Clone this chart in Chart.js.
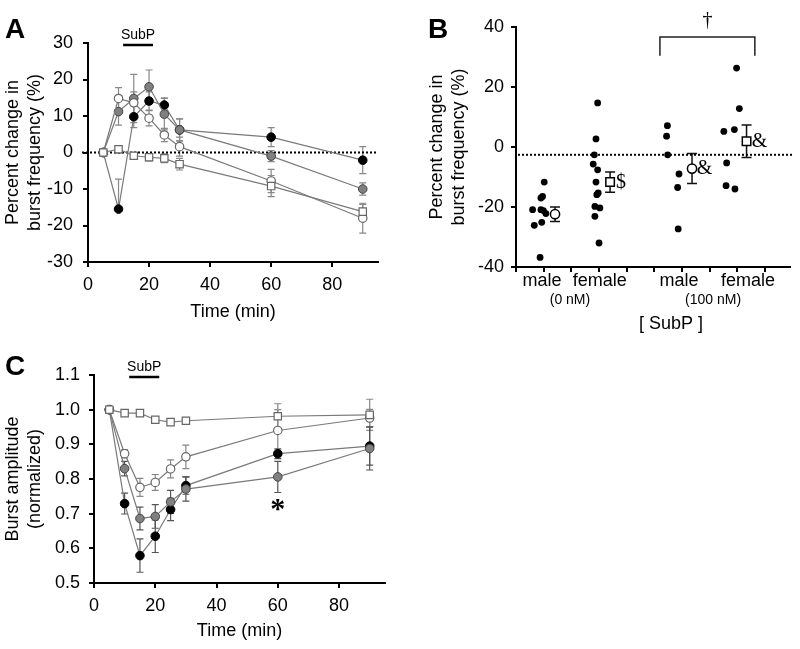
<!DOCTYPE html>
<html><head><meta charset="utf-8">
<script src="https://cdn.jsdelivr.net/npm/chart.js@4/dist/chart.umd.min.js"></script>
<style>
body{margin:0;background:#fff;width:800px;height:649px;position:relative;overflow:hidden;font-family:Arial,"Liberation Sans",sans-serif}
canvas{position:absolute}
.lbl{position:absolute;font-weight:bold;font-size:28px;line-height:1;color:#000}
</style></head><body>
<canvas id="cA" width="400" height="340" style="left:0;top:0"></canvas>
<canvas id="cB" width="400" height="340" style="left:400px;top:0"></canvas>
<canvas id="cC" width="400" height="309" style="left:0;top:340px"></canvas>
<div class="lbl" style="left:5px;top:15px">A</div>
<div class="lbl" style="left:428px;top:15px">B</div>
<div class="lbl" style="left:5px;top:352px">C</div>
<script>
const FONT='Arial, "Liberation Sans", Helvetica, sans-serif';
const SERIF='"Times New Roman", "Liberation Serif", Times, serif';

// ---------- Panel A : burst frequency time course ----------
const timesMin=[5,10,15,20,25,30,60,90];
const aXTicks=[0,20,40,60,80];
const aYTicks=[-30,-20,-10,0,10,20,30];
const aBlack=[0,-15.5,9.8,14.1,13.0,6.2,4.2,-2.1];
const aBlackErr=[0,8.2,3.0,2.5,2.0,3.0,2.6,3.7];
const aBlackErrLow=[0,0,3.0,2.5,2.0,3.0,2.6,3.7];
const aGray=[0,11.2,14.8,18.0,10.5,6.2,-1.0,-10.0];
const aGrayErr=[0,3.7,6.6,4.6,4.3,3.0,1.5,1.7];
const aOpenCircle=[0,14.8,13.6,9.4,4.8,1.6,-7.8,-18.0];
const aOpenCircleErr=[0,3.0,3.0,2.1,1.8,2.6,3.2,4.1];
const aOpenSquare=[0,0.9,-0.9,-1.3,-1.6,-3.2,-9.2,-16.2];
const aOpenSquareErr=[0,1.0,0.8,1.0,1.2,1.6,2.9,2.0];
const aSubP=[11.5,21.3];

// ---------- Panel B : individual values ----------
const bYTicks=[-40,-20,0,20,40];
const bXTicks=[0,1,2,3,4,5,6,7,8,9];
const bCategories=['male','female','male','female'];
const bCategoryX=[0.94,3.03,5.89,8.38];
const bDoses=['(0 nM)','(100 nM)'];
const bDoseX=[1.95,7.12];
const bMale0X=[0.60,0.66,0.87,0.90,0.96,1.02,0.90,0.99,1.08,0.93];
const bMale0Y=[-20.9,-26.1,-36.8,-17.0,-16.5,-11.7,-20.9,-21.2,-22.2,-25.1];
const bFemale0X=[2.89,2.83,2.79,2.95,2.89,2.97,2.92,2.85,3.03,2.85,3.00,2.95];
const bFemale0Y=[2.7,-2.6,-5.7,-7.6,-11.7,-15.3,-15.9,-19.8,-20.3,-23.1,-32.0,14.7];
const bMale100X=[5.47,5.44,5.48,5.89,5.84,5.86];
const bMale100Y=[7.1,3.6,-2.6,-9.0,-13.5,-27.3];
const bFemale100X=[7.97,8.07,7.51,7.89,7.61,7.59,7.91];
const bFemale100Y=[26.3,12.8,5.2,5.8,-5.3,-12.9,-14.0];
const bMeanCircleX=[1.41,6.36];
const bMeanCircleY=[-22.4,-7.2];
const bMeanCircleErr=[2.4,5.0];
const bMeanSquareX=[3.40,8.33];
const bMeanSquareY=[-11.7,1.9];
const bMeanSquareErr=[3.4,5.4];
const bBaseline=-2.6;
const bMarks=[{t:'$',x:3.79,y:-12.0},{t:'&',x:6.81,y:-7.2},{t:'&',x:8.80,y:1.9}];
const bBracketX=[5.2,8.63];
const bBracketY=[30.4,36.7];

// ---------- Panel C : burst amplitude ----------
const cXTicks=[0,20,40,60,80];
const cYTicks=[0.5,0.6,0.7,0.8,0.9,1.0,1.1];
const cOpenSquare=[1.0,0.990,0.990,0.971,0.964,0.968,0.981,0.985];
const cOpenSquareErr=[0,0.005,0.005,0.006,0.006,0.008,0.036,0.045];
const cOpenCircle=[1.0,0.873,0.776,0.790,0.829,0.864,0.940,0.976];
const cOpenCircleErr=[0,0.012,0.026,0.023,0.026,0.034,0.060,0.025];
const cBlack=[1.0,0.729,0.579,0.635,0.712,0.781,0.873,0.895];
const cBlackErr=[0,0.030,0.048,0.047,0.032,0.025,0.014,0.055];
const cGray=[1.0,0.830,0.686,0.692,0.734,0.771,0.806,0.888];
const cGrayErr=[0,0.021,0.033,0.034,0.033,0.035,0.045,0.062];
const cSubP=[11.5,21.3];
const cStarX=60, cStarY=0.73;

// ---------- helpers ----------
const LINE='#7a7a7a';
const STY={
  black:{pointStyle:'circle',pointRadius:4.3,pointBackgroundColor:'#000',pointBorderColor:'#000',pointBorderWidth:1,errColor:'#555'},
  gray:{pointStyle:'circle',pointRadius:4.3,pointBackgroundColor:'#808080',pointBorderColor:'#444',pointBorderWidth:1,errColor:'#555'},
  circle:{pointStyle:'circle',pointRadius:4.2,pointBackgroundColor:'#fff',pointBorderColor:'#666',pointBorderWidth:1.2,errColor:'#888'},
  square:{pointStyle:'rect',pointRadius:5.2,pointBackgroundColor:'#fff',pointBorderColor:'#666',pointBorderWidth:1.2,errColor:'#888'}
};
function series(xs,ys,errs,style,extra){
  return Object.assign({
    data:xs.map((x,i)=>({x:x,y:ys[i]})),
    errors:errs,
    showLine:true,borderColor:LINE,borderWidth:1.2,clip:false,
    capW:3.5,errWidth:1.2
  },STY[style],extra||{});
}
function xAxis(min,max,ticks,title,height,titlePad,showLabels){
  return {type:'linear',min:min,max:max,
    afterBuildTicks:s=>{s.ticks=ticks.map(v=>({value:v}));},
    afterFit:s=>{s.height=height;},
    ticks:{color:'#000',font:{family:FONT,size:18},padding:7,autoSkip:false,maxRotation:0,
      callback:v=>showLabels?String(v):''},
    grid:{drawOnChartArea:false,drawTicks:true,tickLength:5,color:'#000',lineWidth:2},
    border:{display:true,color:'#000',width:2},
    title:{display:!!title,text:title||'',color:'#000',font:{family:FONT,size:18},padding:{top:0,bottom:titlePad}}
  };
}
function yAxis(min,max,ticks,title,width,titlePad,tickPad,fmt){
  return {type:'linear',min:min,max:max,
    afterBuildTicks:s=>{s.ticks=ticks.map(v=>({value:v}));},
    afterFit:s=>{s.width=width;},
    ticks:{color:'#000',font:{family:FONT,size:18},padding:tickPad,autoSkip:false,
      callback:v=>fmt?fmt(v):String(v)},
    grid:{drawOnChartArea:false,drawTicks:true,tickLength:5,color:'#000',lineWidth:2},
    border:{display:true,color:'#000',width:2},
    title:{display:true,text:title,color:'#000',font:{family:FONT,size:18,lineHeight:1.17},padding:{top:titlePad,bottom:0}}
  };
}
const errPlugin={id:'errbars',beforeDatasetsDraw(chart){
  const ctx=chart.ctx, ys=chart.scales.y;
  chart.data.datasets.forEach((ds,i)=>{
    if(!ds.errors) return;
    const meta=chart.getDatasetMeta(i);
    ctx.save();ctx.strokeStyle=ds.errColor;ctx.lineWidth=ds.errWidth;
    meta.data.forEach((pt,j)=>{
      const eu=ds.errors[j], ed=ds.errorsLow?ds.errorsLow[j]:eu;
      if(!eu && !ed) return;
      const v=ds.data[j].y, cw=ds.capW;
      const y1=ys.getPixelForValue(v+eu), y2=ys.getPixelForValue(v-ed), yc=ys.getPixelForValue(v);
      ctx.beginPath();
      if(eu){ctx.moveTo(pt.x,yc);ctx.lineTo(pt.x,y1);ctx.moveTo(pt.x-cw,y1);ctx.lineTo(pt.x+cw,y1);}
      if(ed){ctx.moveTo(pt.x,yc);ctx.lineTo(pt.x,y2);ctx.moveTo(pt.x-cw,y2);ctx.lineTo(pt.x+cw,y2);}
      ctx.stroke();
    });
    ctx.restore();
  });
}};
function dotted(ctx,x1,x2,y){
  ctx.save();ctx.strokeStyle='#000';ctx.lineWidth=2;ctx.setLineDash([2,2]);
  ctx.beginPath();ctx.moveTo(x1,y);ctx.lineTo(x2,y);ctx.stroke();ctx.restore();
}
function subpMark(chart,range,textOffset,barOffset){
  const ctx=chart.ctx, xs=chart.scales.x, top=chart.chartArea.top;
  const x1=xs.getPixelForValue(range[0]), x2=xs.getPixelForValue(range[1]);
  ctx.save();
  ctx.strokeStyle='#000';ctx.lineWidth=2.5;
  ctx.beginPath();ctx.moveTo(x1,top+barOffset);ctx.lineTo(x2,top+barOffset);ctx.stroke();
  ctx.fillStyle='#000';ctx.font='14px '+FONT;ctx.textAlign='center';ctx.textBaseline='middle';
  ctx.fillText('SubP',(x1+x2)/2,top+textOffset);
  ctx.restore();
}
const baseOpts=(pad,scales)=>({
  responsive:false,animation:false,devicePixelRatio:1,
  layout:{padding:pad},
  plugins:{legend:{display:false},tooltip:{enabled:false}},
  scales:scales
});

// ---------- Chart A ----------
new Chart(document.getElementById('cA'),{
  type:'scatter',
  data:{datasets:[
    series(timesMin,aOpenSquare,aOpenSquareErr,'square'),
    series(timesMin,aOpenCircle,aOpenCircleErr,'circle'),
    series(timesMin,aGray,aGrayErr,'gray',{errColor:'#888'}),
    series(timesMin,aBlack,aBlackErr,'black',{errColor:'#888',errorsLow:aBlackErrLow})
  ]},
  options:baseOpts({left:0,top:43,right:22,bottom:0},{
    x:xAxis(0,95,aXTicks,'Time (min)',78,17,true),
    y:yAxis(-30,30,aYTicks,['Percent change in','burst frequency (%)'],88,3,10)
  }),
  plugins:[errPlugin,{id:'annA',
    beforeDatasetsDraw(chart){
      const ys=chart.scales.y;
      dotted(chart.ctx,chart.chartArea.left-6,chart.chartArea.right,ys.getPixelForValue(0));
    },
    afterDraw(chart){ subpMark(chart,aSubP,-8,2); }
  }]
});

// ---------- Chart B ----------
function dots(xs,ys){
  return {data:xs.map((x,i)=>({x:x,y:ys[i]})),showLine:false,pointStyle:'circle',pointRadius:3.4,
    pointBackgroundColor:'#000',pointBorderColor:'#000',pointBorderWidth:0,clip:false};
}
function means(xs,ys,errs,style){
  return Object.assign({data:xs.map((x,i)=>({x:x,y:ys[i]})),errors:errs,showLine:false,clip:false,
    capW:5,errWidth:1.5},STY[style],{pointBorderColor:'#000',pointBorderWidth:1.5,errColor:'#111'},
    style==='circle'?{pointRadius:4.6}:{pointRadius:6});
}
new Chart(document.getElementById('cB'),{
  type:'scatter',
  data:{datasets:[
    dots(bMale0X,bMale0Y),dots(bFemale0X,bFemale0Y),dots(bMale100X,bMale100Y),dots(bFemale100X,bFemale100Y),
    means(bMeanCircleX,bMeanCircleY,bMeanCircleErr,'circle'),
    means(bMeanSquareX,bMeanSquareY,bMeanSquareErr,'square')
  ]},
  options:baseOpts({left:0,top:27,right:10,bottom:0},{
    x:xAxis(0,9.9,bXTicks,'',73,0,false),
    y:yAxis(-40,40,bYTicks,['Percent change in','burst frequency (%)'],116,27,7)
  }),
  plugins:[errPlugin,{id:'annB',
    beforeDatasetsDraw(chart){
      dotted(chart.ctx,chart.chartArea.left+2,chart.chartArea.right+2,chart.scales.y.getPixelForValue(bBaseline));
    },
    afterDraw(chart){
      const ctx=chart.ctx, xs=chart.scales.x, ys=chart.scales.y, bot=chart.chartArea.bottom;
      ctx.save();ctx.fillStyle='#000';ctx.textAlign='center';ctx.textBaseline='middle';
      ctx.font='18px '+FONT;
      bCategories.forEach((c,i)=>ctx.fillText(c,xs.getPixelForValue(bCategoryX[i]),bot+14));
      ctx.font='14px '+FONT;
      bDoses.forEach((c,i)=>ctx.fillText(c,xs.getPixelForValue(bDoseX[i]),bot+33));
      ctx.font='18px '+FONT;
      ctx.fillText('[ SubP ]',xs.getPixelForValue(5.6),bot+57);
      ctx.font='20px '+SERIF;
      bMarks.forEach(m=>ctx.fillText(m.t,xs.getPixelForValue(m.x),ys.getPixelForValue(m.y)));
      // bracket
      const x1=xs.getPixelForValue(bBracketX[0]), x2=xs.getPixelForValue(bBracketX[1]);
      const yl=ys.getPixelForValue(bBracketY[0]), yt=ys.getPixelForValue(bBracketY[1]);
      ctx.strokeStyle='#222';ctx.lineWidth=1.5;
      ctx.beginPath();ctx.moveTo(x1,yl);ctx.lineTo(x1,yt);ctx.lineTo(x2,yt);ctx.lineTo(x2,yl);ctx.stroke();
      ctx.textBaseline='alphabetic';ctx.font='20px '+SERIF;
      ctx.fillText('\u2020',(x1+x2)/2,yt-11);
      ctx.restore();
    }
  }]
});

// ---------- Chart C ----------
new Chart(document.getElementById('cC'),{
  type:'scatter',
  data:{datasets:[
    series(timesMin,cOpenSquare,cOpenSquareErr,'square'),
    series(timesMin,cOpenCircle,cOpenCircleErr,'circle'),
    series(timesMin,cGray,cGrayErr,'gray'),
    series(timesMin,cBlack,cBlackErr,'black')
  ]},
  options:baseOpts({left:0,top:35,right:15,bottom:0},{
    x:xAxis(0,95,cXTicks,'Time (min)',66,7,true),
    y:yAxis(0.5,1.1,cYTicks,['Burst amplitude','(normalized)'],94,3,9,v=>v.toFixed(1))
  }),
  plugins:[errPlugin,{id:'annC',
    afterDraw(chart){
      subpMark(chart,cSubP,-8,2);
      const ctx=chart.ctx;
      ctx.save();ctx.fillStyle='#000';ctx.textAlign='center';ctx.textBaseline='middle';
      ctx.font='bold 30px '+SERIF;
      ctx.fillText('*',chart.scales.x.getPixelForValue(cStarX),chart.scales.y.getPixelForValue(cStarY)+7);
      ctx.restore();
    }
  }]
});
</script>
</body></html>
